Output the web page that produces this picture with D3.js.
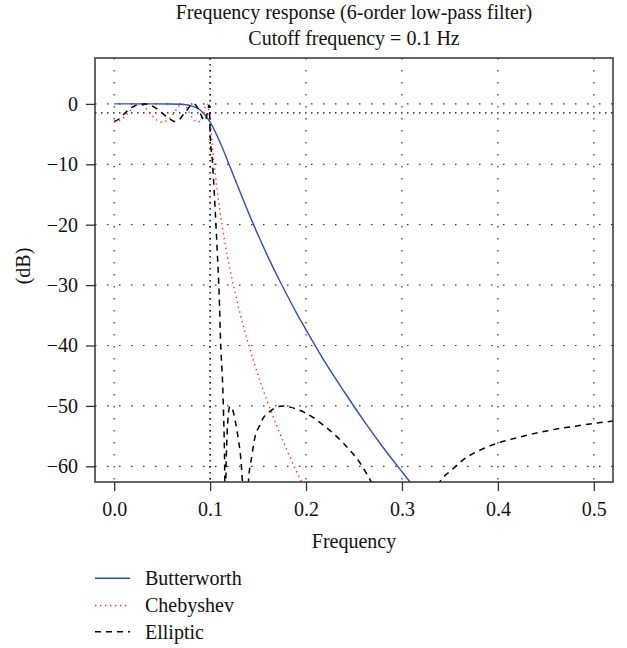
<!DOCTYPE html>
<html>
<head>
<meta charset="utf-8">
<script src="https://cdn.jsdelivr.net/npm/d3@7"></script>
<style>
  html, body { margin: 0; padding: 0; background: #fff; }
  svg text { font-family: "Liberation Serif", "Times New Roman", serif; fill: #111; }
</style>
</head>
<body>
<svg id="chart" width="627" height="648"></svg>
<script>
// Magnitude response (dB) of three 6th-order low-pass designs, cutoff 0.1 Hz

// Butterworth
const butterFreq = [0, 0.02, 0.04, 0.06, 0.07, 0.08, 0.09, 0.10, 0.11, 0.12, 0.13, 0.14, 0.15, 0.16, 0.17, 0.18, 0.19, 0.20, 0.22, 0.24, 0.26, 0.28, 0.30, 0.31, 0.32];
const butterDb   = [0, 0, 0, -0.01, -0.06, -0.28, -1.06, -3.01, -6.23, -10.1, -14.1, -18.0, -21.7, -25.2, -28.5, -31.6, -34.6, -37.4, -42.8, -47.7, -52.4, -56.8, -60.9, -62.9, -64.9];

// Chebyshev (type I, 3 dB ripple)
const chebyFreq = [0, 0.005, 0.01, 0.015, 0.02, 0.026, 0.03, 0.035, 0.04, 0.045, 0.05, 0.055, 0.06, 0.065, 0.07, 0.075, 0.08, 0.0825, 0.085, 0.0875, 0.09, 0.0925, 0.095, 0.097, 0.0985, 0.10, 0.102, 0.105, 0.11, 0.115, 0.12, 0.13, 0.14, 0.15, 0.16, 0.17, 0.18, 0.19, 0.20];
const chebyDb   = [-3.0, -2.82, -2.26, -1.43, -0.54, 0, -0.25, -1.07, -2.02, -2.72, -3.0, -2.77, -2.0, -0.88, -0.03, -0.5, -1.9, -2.5, -2.9, -3.0, -2.64, -1.75, -0.48, -0.03, -0.97, -3.0, -6.34, -11.1, -17.4, -22.5, -26.8, -33.9, -39.8, -44.9, -49.4, -53.5, -57.3, -60.8, -64.1];

// Elliptic (3 dB ripple, 50 dB stopband)
const ellipFreq = [0, 0.005, 0.01, 0.015, 0.02, 0.025, 0.033, 0.038, 0.043, 0.048, 0.053, 0.058, 0.063, 0.067, 0.071, 0.075, 0.079, 0.083, 0.086, 0.089, 0.092, 0.0945, 0.097, 0.099, 0.0993, 0.100, 0.1025, 0.1042, 0.106, 0.1077, 0.1094, 0.1111, 0.1129, 0.114, 0.1153, 0.1158, 0.1164, 0.1175, 0.119, 0.1205, 0.122, 0.1245, 0.127, 0.1295, 0.132, 0.1336, 0.1367, 0.1399, 0.1433, 0.147, 0.1515, 0.1555, 0.1625, 0.1695, 0.176, 0.1834, 0.1973, 0.2182, 0.239, 0.2565, 0.267, 0.28, 0.295, 0.303, 0.31, 0.325, 0.3397, 0.352, 0.364, 0.3817, 0.399, 0.4242, 0.452, 0.4872, 0.52];
const ellipDb   = [-2.9, -2.5, -1.7, -1.0, -0.45, -0.12, 0, -0.25, -0.65, -1.25, -1.9, -2.5, -2.9, -2.7, -2.0, -1.2, -0.4, 0, -0.4, -1.3, -2.3, -2.8, -1.6, -0.2, -0.5, -4.9, -9.8, -14.3, -19.8, -25.3, -31.4, -40.2, -45.7, -51.2, -62.3, -80, -62.6, -55.5, -51.5, -50.1, -50.2, -51.2, -53.2, -55.6, -58.8, -62.6, -85, -62.6, -58.5, -55.0, -53.3, -52.0, -50.9, -50.2, -50.0, -50.2, -51.0, -53.2, -56.2, -59.5, -62.3, -66.5, -78, -90, -80, -68, -62.5, -60.6, -58.9, -57.3, -56.2, -55.1, -54.1, -53.2, -52.5];

const xTicks = [0, 0.1, 0.2, 0.3, 0.4, 0.5];
const yTicks = [0, -10, -20, -30, -40, -50, -60];
const cutoffFreq = 0.1;
const rippleLevel = -1.5;

const titleLines = ["Frequency response (6-order low-pass filter)", "Cutoff frequency = 0.1 Hz"];
const seriesNames = ["Butterworth", "Chebyshev", "Elliptic"];

const svg = d3.select("#chart");
const plot = { left: 95, right: 613, top: 58, bottom: 482 };

const x = d3.scaleLinear().domain([-0.02, 0.52]).range([plot.left, plot.right]);
const y = d3.scaleLinear().domain([-62.6, 7.6]).range([plot.bottom, plot.top]);

svg.append("clipPath").attr("id", "plot-clip")
  .append("rect")
  .attr("x", plot.left).attr("y", plot.top)
  .attr("width", plot.right - plot.left).attr("height", plot.bottom - plot.top);

// dotted grid
const grid = svg.append("g").attr("class", "grid");
grid.selectAll("line.gx").data(xTicks).join("line")
  .attr("x1", d => x(d)).attr("x2", d => x(d))
  .attr("y1", plot.top).attr("y2", plot.bottom)
  .attr("stroke", "#333").attr("stroke-width", 1.2)
  .attr("stroke-dasharray", "1.5,10.5");
grid.selectAll("line.gy").data(yTicks).join("line")
  .attr("x1", plot.left).attr("x2", plot.right)
  .attr("y1", d => y(d)).attr("y2", d => y(d))
  .attr("stroke", "#333").attr("stroke-width", 1.2)
  .attr("stroke-dasharray", "1.5,10.5");

// reference lines: cutoff frequency and ripple level
svg.append("line")
  .attr("x1", x(cutoffFreq)).attr("x2", x(cutoffFreq))
  .attr("y1", plot.top).attr("y2", plot.bottom)
  .attr("stroke", "#000").attr("stroke-width", 1.4)
  .attr("stroke-dasharray", "1.5,4.5");
svg.append("line")
  .attr("x1", plot.left).attr("x2", plot.right)
  .attr("y1", y(rippleLevel)).attr("y2", y(rippleLevel))
  .attr("stroke", "#000").attr("stroke-width", 1.3)
  .attr("stroke-dasharray", "1.5,4.5");

// response curves
const line = d3.line().x(d => x(d[0])).y(d => y(d[1])).curve(d3.curveMonotoneX);
const curves = svg.append("g").attr("clip-path", "url(#plot-clip)");

const styles = [
  { color: "#2d4fb3", width: 1.4, dash: null },
  { color: "#ff2a2a", width: 1.4, dash: "1.4,3.6" },
  { color: "#000000", width: 1.5, dash: "6,5" }
];
const seriesData = [
  d3.zip(butterFreq, butterDb),
  d3.zip(chebyFreq, chebyDb),
  d3.zip(ellipFreq, ellipDb)
];
seriesData.forEach((pts, i) => {
  curves.append("path")
    .datum(pts)
    .attr("d", line)
    .attr("fill", "none")
    .attr("stroke", styles[i].color)
    .attr("stroke-width", styles[i].width)
    .attr("stroke-dasharray", styles[i].dash);
});

// axes
const xAxis = svg.append("g")
  .attr("transform", `translate(0,${plot.bottom})`)
  .call(d3.axisBottom(x).tickValues(xTicks).tickFormat(d3.format(".1f")).tickSize(9).tickPadding(11).tickSizeOuter(0));
const yAxis = svg.append("g")
  .attr("transform", `translate(${plot.left},0)`)
  .call(d3.axisLeft(y).tickValues(yTicks).tickFormat(d3.format("d")).tickSize(9).tickPadding(8).tickSizeOuter(0));
[xAxis, yAxis].forEach(g => {
  g.select(".domain").remove();
  g.selectAll(".tick line").attr("stroke", "#333").attr("stroke-width", 1.3);
  g.selectAll(".tick text").attr("font-size", 20).attr("fill", "#111")
    .attr("font-family", "Liberation Serif, Times New Roman, serif");
});

// frame
svg.append("rect")
  .attr("x", plot.left).attr("y", plot.top)
  .attr("width", plot.right - plot.left).attr("height", plot.bottom - plot.top)
  .attr("fill", "none").attr("stroke", "#333").attr("stroke-width", 1.5);

// titles and axis labels
const cx = (plot.left + plot.right) / 2;
svg.append("text").attr("x", cx).attr("y", 18.5).attr("text-anchor", "middle")
  .attr("font-size", 20).text(titleLines[0]);
svg.append("text").attr("x", cx).attr("y", 45).attr("text-anchor", "middle")
  .attr("font-size", 20).text(titleLines[1]);
svg.append("text").attr("x", cx).attr("y", 548).attr("text-anchor", "middle")
  .attr("font-size", 20).text("Frequency");
svg.append("text").attr("transform", "translate(29.5,266) rotate(-90)")
  .attr("text-anchor", "middle").attr("font-size", 20).text("(dB)");

// legend
const legendRows = [578.3, 605.5, 631.7];
const legend = svg.append("g");
seriesNames.forEach((name, i) => {
  legend.append("line")
    .attr("x1", 95).attr("x2", 130)
    .attr("y1", legendRows[i]).attr("y2", legendRows[i])
    .attr("stroke", styles[i].color)
    .attr("stroke-width", styles[i].width)
    .attr("stroke-dasharray", styles[i].dash);
  legend.append("text")
    .attr("x", 145).attr("y", legendRows[i] + 6.8)
    .attr("font-size", 20).text(name);
});
</script>
</body>
</html>
